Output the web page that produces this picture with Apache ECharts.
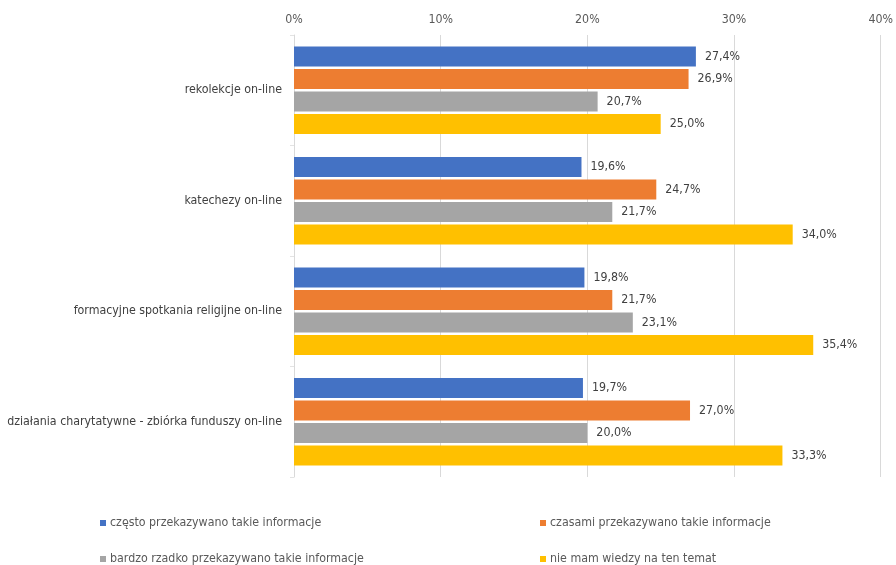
<!DOCTYPE html>
<html><head><meta charset="utf-8">
<script src="https://cdn.jsdelivr.net/npm/echarts@6/dist/echarts.min.js"></script>
<style>html,body{margin:0;padding:0;background:#fff}#c{width:896px;height:565px}</style>
</head><body><div id="c"></div>
<script>
const categories = ['rekolekcje on-line','katechezy on-line','formacyjne spotkania religijne on-line','działania charytatywne - zbiórka funduszy on-line'];
const seriesNames = ['często przekazywano takie informacje','czasami przekazywano takie informacje','bardzo rzadko przekazywano takie informacje','nie mam wiedzy na ten temat'];
const czesto = [27.4, 19.6, 19.8, 19.7];
const czasami = [26.9, 24.7, 21.7, 27.0];
const rzadko = [20.7, 21.7, 23.1, 20.0];
const brak = [25.0, 34.0, 35.4, 33.3];
const colors = ['#4472C4','#ED7D31','#A5A5A5','#FFC000'];
const font = 'DejaVu Sans Condensed, DejaVu Sans, sans-serif';
const allData = [czesto, czasami, rzadko, brak];
const chart = echarts.init(document.getElementById('c'));
const legendPos = [[95,512],[535,512],[95,548],[535,548]];
chart.setOption({
  animation:false,
  textStyle:{fontFamily:font},
  legend: seriesNames.map((n,i)=>({
    data:[n], left:legendPos[i][0], top:legendPos[i][1],
    itemWidth:6, itemHeight:6, icon:'rect', itemGap:4,
    textStyle:{color:'#595959', fontSize:12.3, fontFamily:font, padding:[0,0,0,-1]}
  })),
  grid:{left:294, right:11, top:35, height:442, containLabel:false},
  xAxis:{type:'value', position:'top', min:0, max:40, interval:10,
    axisLabel:{formatter:'{value}%', color:'#595959', fontSize:12.3, fontFamily:font, margin:9},
    axisLine:{show:false}, axisTick:{show:false},
    splitLine:{lineStyle:{color:'#D9D9D9'}}},
  yAxis:{type:'category', data:categories, inverse:true,
    axisLine:{lineStyle:{color:'#D9D9D9'}},
    axisTick:{show:true, length:4, lineStyle:{color:'#E3E3E3'}},
    axisLabel:{color:'#404040', fontSize:12.3, fontFamily:font, margin:12}},
  series: allData.map((d,i)=>({
    name:seriesNames[i], type:'bar', data:d,
    barCategoryGap:'21%', barGap:'12%',
    itemStyle:{color:colors[i]},
    label:{show:true, position:'right', distance:9, color:'#404040', fontSize:12.3, fontFamily:font,
      formatter:p=>p.value.toFixed(1).replace('.',',')+'%'}
  }))
});
</script></body></html>
